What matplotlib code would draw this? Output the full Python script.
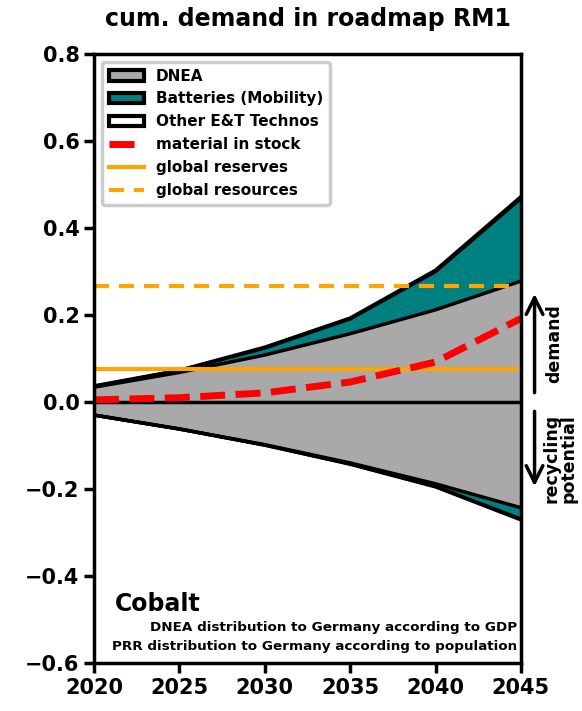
import numpy as np
import matplotlib.pyplot as plt
from matplotlib.patches import Patch
from matplotlib.lines import Line2D

plt.rcParams['font.weight'] = 'bold'

years = [2020, 2025, 2030, 2035, 2040, 2045]

# cumulative demand (positive side)
dnea_demand = [0.034, 0.068, 0.108, 0.157, 0.212, 0.278]
battery_demand = [0.002, 0.004, 0.016, 0.034, 0.088, 0.190]
other_demand = [0.001, 0.001, 0.002, 0.002, 0.003, 0.004]

# recycling potential (negative side)
dnea_recycling = [-0.030, -0.062, -0.098, -0.140, -0.188, -0.243]
battery_recycling = [0.0, 0.0, -0.001, -0.002, -0.006, -0.026]
other_recycling = [0.0, 0.0, 0.0, -0.001, -0.001, -0.002]

material_stock = [0.005, 0.010, 0.021, 0.046, 0.092, 0.192]
global_reserves = 0.075
global_resources = 0.266

yticks = [-0.6, -0.4, -0.2, 0.0, 0.2, 0.4, 0.6, 0.8]

grey = '#a9a9a9'
teal = '#008080'


def main():
    fig = plt.figure(figsize=(5.82, 7.11), dpi=100)
    ax = fig.add_axes([0.1615, 0.0675, 0.7335, 0.8565])

    x = np.array(years)
    d1 = np.array(dnea_demand)
    d2 = d1 + np.array(battery_demand)
    d3 = d2 + np.array(other_demand)
    r1 = np.array(dnea_recycling)
    r2 = r1 + np.array(battery_recycling)
    r3 = r2 + np.array(other_recycling)

    lw = 2.5
    ax.fill_between(x, 0, d1, facecolor=grey, lw=0)
    ax.fill_between(x, d1, d2, facecolor=teal, lw=0)
    ax.fill_between(x, d2, d3, facecolor='white', lw=0)
    ax.fill_between(x, r1, 0, facecolor=grey, lw=0)
    ax.fill_between(x, r2, r1, facecolor=teal, lw=0)
    ax.fill_between(x, r3, r2, facecolor='white', lw=0)
    for yy in (d1, d2, d3, r1, r2, r3):
        ax.plot(x, yy, color='black', lw=lw)
    ax.axhline(0, color='black', lw=lw)

    ax.axhline(global_reserves, color='orange', lw=3)
    ax.axhline(global_resources, color='orange', ls=(0, (3.6, 2.4)), lw=3)
    ax.plot(x, material_stock, color='red', ls=(0, (3.6, 1.5)), lw=5)

    ax.set_xlim(2020, 2045)
    ax.set_ylim(-0.6, 0.8)
    ax.set_xticks(years)
    ax.set_yticks(yticks)
    ax.set_yticklabels([('%.1f' % v).replace('-', '\u2212') for v in yticks])
    ax.tick_params(labelsize=15, width=2.5, length=7)
    for s in ax.spines.values():
        s.set_linewidth(2.5)
    ax.set_title('cum. demand in roadmap RM1', fontsize=17, fontweight='bold', pad=20)

    handles = [
        Patch(facecolor=grey, edgecolor='black', lw=3, label='DNEA'),
        Patch(facecolor=teal, edgecolor='black', lw=3, label='Batteries (Mobility)'),
        Patch(facecolor='white', edgecolor='black', lw=3, label='Other E&T Technos'),
        Line2D([], [], color='red', ls=(0, (3.6, 1.5)), lw=5, label='material in stock'),
        Line2D([], [], color='orange', lw=3, label='global reserves'),
        Line2D([], [], color='orange', ls=(0, (3.6, 2.4)), lw=3, label='global resources'),
    ]
    leg = ax.legend(handles=handles, loc='upper left', fontsize=11, fancybox=True,
                    framealpha=1, borderpad=0.45, labelspacing=0.52, handlelength=2.3,
                    bbox_to_anchor=(0.0, 1.0))
    leg.get_frame().set_linewidth(2.5)
    leg.get_frame().set_edgecolor('#cccccc')

    ax.text(2021.2, -0.48, 'Cobalt', fontsize=17, fontweight='bold')
    ax.text(2044.8, -0.527, 'DNEA distribution to Germany according to GDP',
            fontsize=9.7, fontweight='bold', ha='right')
    ax.text(2044.8, -0.569, 'PRR distribution to Germany according to population',
            fontsize=9.7, fontweight='bold', ha='right')

    ax.annotate('', xy=(2045.8, 0.255), xytext=(2045.8, 0.015),
                arrowprops=dict(arrowstyle='->', lw=2.5, mutation_scale=30),
                annotation_clip=False)
    ax.annotate('', xy=(2045.8, -0.2), xytext=(2045.8, -0.015),
                arrowprops=dict(arrowstyle='->', lw=2.5, mutation_scale=30),
                annotation_clip=False)
    ax.text(2046.95, 0.135, 'demand', rotation=90, fontsize=12.5, fontweight='bold',
            ha='center', va='center', clip_on=False)
    ax.text(2047.3, -0.13, 'recycling\npotential', rotation=90, fontsize=12.5,
            fontweight='bold', ha='center', va='center', clip_on=False, linespacing=0.9)

    fig.savefig('out.png', dpi=100)


if __name__ == '__main__':
    main()
